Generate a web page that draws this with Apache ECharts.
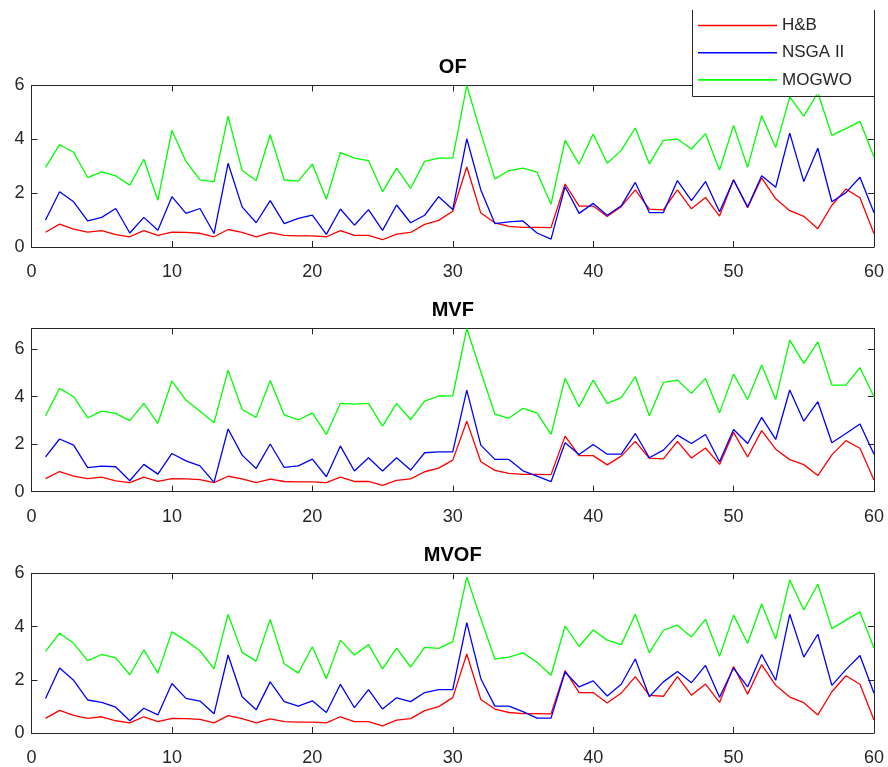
<!DOCTYPE html>
<html>
<head>
<meta charset="utf-8">
<script src="https://cdn.jsdelivr.net/npm/echarts@6/dist/echarts.min.js"></script>
<style>
	html, body { margin: 0; padding: 0; background: #fff; }
	#chart { width: 888px; height: 767px; }
</style>
</head>
<body>
<div id="chart"></div>
<script>
// run index 1..60
var runs = [];
for (var r = 1; r <= 60; r++) runs.push(r);

var panelTitles = ["OF", "MVF", "MVOF"];
var seriesNames = ["H&B", "NSGA II", "MOGWO"];
var seriesColors = ["#ff0000", "#0000ff", "#00ff00"];
var xTicks = [0, 10, 20, 30, 40, 50, 60];
var yTicks = [0, 2, 4, 6];

// H&B is the same curve in all three panels
var hb = [0.55, 0.85, 0.66, 0.55, 0.61, 0.46, 0.38, 0.61, 0.43, 0.55,
	0.54, 0.51, 0.38, 0.65, 0.54, 0.38, 0.53, 0.43, 0.41, 0.41,
	0.38, 0.61, 0.43, 0.43, 0.27, 0.48, 0.54, 0.84, 0.99, 1.33,
	2.97, 1.26, 0.90, 0.77, 0.73, 0.73, 0.72, 2.34, 1.52, 1.52,
	1.13, 1.50, 2.12, 1.41, 1.38, 2.12, 1.42, 1.84, 1.15, 2.50,
	1.46, 2.57, 1.79, 1.35, 1.14, 0.68, 1.55, 2.15, 1.83, 0.49];

var nsgaOF = [1.00, 2.05, 1.68, 0.97, 1.10, 1.43, 0.52, 1.10, 0.62, 1.87,
	1.25, 1.43, 0.50, 3.11, 1.49, 0.90, 1.72, 0.87, 1.06, 1.18,
	0.47, 1.41, 0.81, 1.39, 0.62, 1.56, 0.90, 1.18, 1.87, 1.39,
	4.02, 2.12, 0.87, 0.93, 0.97, 0.52, 0.29, 2.24, 1.25, 1.62,
	1.18, 1.53, 2.40, 1.28, 1.28, 2.47, 1.72, 2.43, 1.31, 2.49,
	1.49, 2.65, 2.22, 4.23, 2.43, 3.67, 1.68, 2.02, 2.59, 1.27];
var mogwoOF = [2.96, 3.80, 3.52, 2.58, 2.79, 2.64, 2.30, 3.26, 1.74, 4.33,
	3.18, 2.49, 2.43, 4.86, 2.84, 2.47, 4.17, 2.49, 2.45, 3.08,
	1.77, 3.51, 3.30, 3.21, 2.05, 2.93, 2.18, 3.18, 3.30, 3.30,
	6.00, 4.23, 2.53, 2.84, 2.93, 2.78, 1.59, 3.96, 3.08, 4.20,
	3.11, 3.59, 4.42, 3.09, 3.96, 4.01, 3.64, 4.21, 2.86, 4.52,
	2.96, 4.88, 3.70, 5.58, 4.86, 5.73, 4.15, 4.40, 4.67, 3.34];

var nsgaMVF = [1.47, 2.22, 1.96, 1.01, 1.08, 1.05, 0.46, 1.15, 0.74, 1.61,
	1.30, 1.09, 0.39, 2.64, 1.54, 0.98, 2.01, 1.02, 1.09, 1.37,
	0.63, 1.92, 0.87, 1.43, 0.87, 1.43, 0.91, 1.64, 1.68, 1.68,
	4.28, 1.96, 1.36, 1.36, 0.88, 0.66, 0.42, 2.06, 1.57, 1.99,
	1.58, 1.58, 2.45, 1.43, 1.75, 2.38, 2.03, 2.41, 1.26, 2.62,
	2.03, 3.13, 2.20, 4.28, 2.97, 3.79, 2.06, 2.45, 2.85, 1.58];
var mogwoMVF = [3.20, 4.35, 4.00, 3.11, 3.39, 3.30, 2.99, 3.72, 2.88, 4.66,
	3.86, 3.39, 2.90, 5.12, 3.46, 3.13, 4.68, 3.23, 3.02, 3.32,
	2.41, 3.72, 3.69, 3.72, 2.76, 3.72, 3.04, 3.81, 4.03, 4.04,
	6.87, 5.05, 3.27, 3.09, 3.51, 3.32, 2.41, 4.77, 3.58, 4.70,
	3.72, 3.96, 4.84, 3.20, 4.60, 4.70, 4.14, 4.77, 3.32, 4.95,
	3.88, 5.33, 3.88, 6.38, 5.40, 6.31, 4.49, 4.49, 5.22, 4.00];

var nsgaMVOF = [1.30, 2.44, 1.98, 1.24, 1.15, 0.97, 0.46, 0.93, 0.68, 1.86,
	1.30, 1.20, 0.72, 2.93, 1.36, 0.87, 1.92, 1.18, 1.01, 1.21,
	0.77, 1.83, 0.95, 1.63, 0.90, 1.32, 1.18, 1.52, 1.63, 1.63,
	4.15, 2.04, 1.01, 1.01, 0.80, 0.56, 0.56, 2.29, 1.73, 1.96,
	1.39, 1.83, 2.78, 1.36, 1.92, 2.31, 1.89, 2.54, 1.34, 2.44,
	1.73, 2.95, 1.98, 4.46, 2.85, 3.71, 1.79, 2.38, 2.91, 1.49];
var mogwoMVOF = [3.07, 3.75, 3.37, 2.72, 2.95, 2.82, 2.19, 3.12, 2.25, 3.80,
	3.47, 3.09, 2.41, 4.46, 3.03, 2.70, 4.27, 2.60, 2.25, 3.24,
	2.04, 3.49, 2.93, 3.32, 2.41, 3.19, 2.48, 3.22, 3.18, 3.43,
	5.85, 4.29, 2.78, 2.85, 3.01, 2.66, 2.17, 4.02, 3.25, 3.87,
	3.49, 3.32, 4.46, 3.01, 3.86, 4.05, 3.61, 4.27, 2.88, 4.43,
	3.37, 4.85, 3.53, 5.75, 4.62, 5.59, 3.92, 4.24, 4.55, 3.19];

var panelData = [
	[hb, nsgaOF, mogwoOF],
	[hb, nsgaMVF, mogwoMVF],
	[hb, nsgaMVOF, mogwoMVOF]
];
var yMax = [6, 6.88, 6];

// plot boxes (pixels)
var boxes = [
	{ top: 85.5, height: 161.5 },
	{ top: 328.3, height: 163.4 },
	{ top: 573.3, height: 161.7 }
];
var boxLeft = 31.5, boxRight = 14;
var font = "Liberation Sans, Arial, sans-serif";
var axisCol = "#262626";

function pairs(vals) {
	var out = [];
	for (var i = 0; i < vals.length; i++) out.push([runs[i], vals[i]]);
	return out;
}

var grid = [], xAxis = [], yAxis = [], series = [], title = [];
for (var p = 0; p < 3; p++) {
	grid.push({ left: boxLeft, right: boxRight, top: boxes[p].top, height: boxes[p].height });
	var baseX = {
		gridIndex: p, type: "value", min: xTicks[0], max: xTicks[xTicks.length - 1], interval: 10,
		axisLine: { show: true, onZero: false, lineStyle: { color: axisCol, width: 1 } },
		axisTick: { show: true, inside: true, length: 6, lineStyle: { color: axisCol } },
		splitLine: { show: false }
	};
	xAxis.push(Object.assign({}, baseX, {
		position: "bottom",
		axisLabel: { show: true, margin: 16, fontSize: 18, color: axisCol, fontFamily: font }
	}));
	xAxis.push(Object.assign({}, baseX, { position: "top", axisLabel: { show: false } }));
	var baseY = {
		gridIndex: p, type: "value", min: yTicks[0], max: yMax[p], interval: 2,
		axisLine: { show: true, onZero: false, lineStyle: { color: axisCol, width: 1 } },
		axisTick: { show: true, inside: true, length: 6, lineStyle: { color: axisCol } },
		splitLine: { show: false }
	};
	yAxis.push(Object.assign({}, baseY, {
		position: "left",
		axisLabel: { show: true, margin: 7, fontSize: 18, color: axisCol, fontFamily: font, showMaxLabel: yMax[p] == 6 }
	}));
	yAxis.push(Object.assign({}, baseY, { position: "right", axisLabel: { show: false } }));

	title.push({
		text: panelTitles[p],
		left: boxLeft + (888 - boxLeft - boxRight) / 2,
		textAlign: "center",
		top: boxes[p].top - 28,
		padding: 0,
		textStyle: { fontSize: 20, fontWeight: "bold", color: "#000", fontFamily: font }
	});

	for (var s = 0; s < 3; s++) {
		series.push({
			name: seriesNames[s],
			type: "line",
			xAxisIndex: p * 2,
			yAxisIndex: p * 2,
			data: pairs(panelData[p][s]),
			symbol: "none",
			animation: false,
			lineStyle: { color: seriesColors[s], width: 1.3 },
			itemStyle: { color: seriesColors[s] }
		});
	}
}

var chart = echarts.init(document.getElementById("chart"));
chart.setOption({
	animation: false,
	backgroundColor: "#fff",
	title: title,
	grid: grid,
	xAxis: xAxis,
	yAxis: yAxis,
	legend: {
		data: seriesNames,
		orient: "vertical",
		left: 692,
		top: 10,
		padding: [7, 30, 6, 6],
		icon: "rect",
		itemWidth: 79,
		itemHeight: 1.6,
		itemGap: 10.2,
		backgroundColor: "#fff",
		borderWidth: 0,
		selectedMode: false,
		textStyle: { fontSize: 17, color: "#262626", fontFamily: font }
	},
	graphic: [{
		type: "polyline",
		z: 100,
		shape: { points: [[692.5, 10], [692.5, 96.5], [874.5, 96.5], [874.5, 10]] },
		style: { stroke: axisCol, lineWidth: 1, fill: null }
	}],
	series: series
});
</script>
</body>
</html>
